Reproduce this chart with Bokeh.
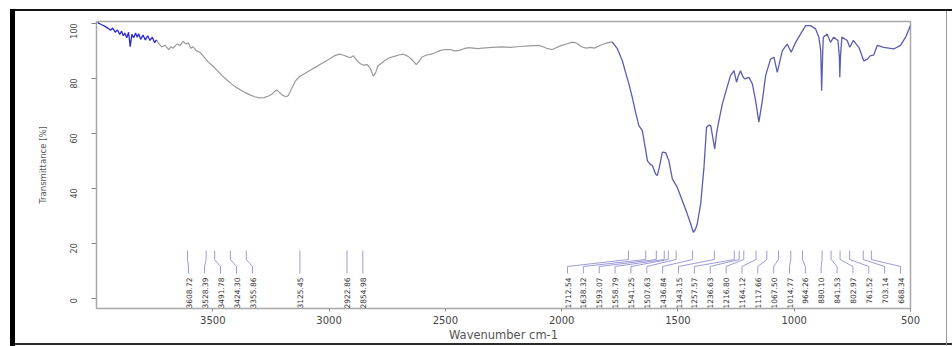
import math
from bokeh.plotting import figure
from bokeh.models import Range1d, FixedTicker
from bokeh.core.properties import value
from bokeh.embed import file_html
from bokeh.resources import INLINE

# ---------------- data ----------------
# noisy high-wavenumber part (blue)
wn_left = [3995, 3980, 3965, 3950, 3940, 3930, 3920, 3910, 3900, 3892, 3885, 3878, 3870,
           3862, 3855, 3848, 3840, 3832, 3825, 3818, 3810, 3800, 3790, 3780, 3770, 3760,
           3750, 3742]
t_left = [100.3, 99.6, 99.0, 98.2, 97.5, 98.3, 96.8, 97.6, 96.0, 97.2, 95.5, 96.5, 94.8,
          96.8, 91.5, 96.0, 94.8, 96.5, 95.0, 96.2, 94.2, 95.8, 94.0, 95.5, 93.8, 95.0,
          93.0, 94.0]

# middle part (grey)
wn_mid = [3742, 3735, 3720, 3705, 3690, 3680, 3670, 3655, 3640, 3628, 3615, 3605, 3595,
          3585, 3570, 3555, 3540, 3520, 3500, 3480, 3460, 3440, 3420, 3400, 3380, 3360,
          3340, 3320, 3300, 3280, 3260, 3245, 3235, 3225, 3215, 3200, 3185, 3175, 3160,
          3145, 3130, 3110, 3090, 3060, 3030, 3000, 2975, 2955, 2940, 2925, 2910, 2895,
          2880, 2865, 2850, 2835, 2822, 2810, 2800, 2790, 2775, 2760, 2740, 2720, 2700,
          2680, 2660, 2640, 2625, 2615, 2600, 2580, 2560, 2540, 2520, 2500, 2480, 2460,
          2440, 2420, 2400, 2380, 2360, 2340, 2300, 2260, 2220, 2180, 2140, 2100, 2080,
          2060, 2040, 2020, 2000, 1970, 1950, 1935, 1915, 1895, 1875, 1860, 1840, 1820,
          1800, 1785]
t_mid = [94.0, 93.0, 91.5, 92.0, 90.5, 91.5, 91.0, 92.5, 92.0, 93.5, 92.5, 93.0, 91.0,
         91.5, 90.0, 89.5, 88.0, 86.0, 84.5, 82.8, 81.0, 79.5, 78.0, 76.8, 75.8, 74.8,
         74.0, 73.3, 72.9, 73.0, 73.6, 74.3, 75.2, 75.8, 75.0, 73.8, 73.3, 73.8, 76.5,
         79.0, 80.5, 81.5, 82.5, 84.0, 85.5, 87.0, 88.3, 88.8, 88.5, 88.0, 87.5, 88.2,
         86.5, 85.3, 84.8, 85.0, 83.5, 80.8, 82.0, 84.5, 85.5, 86.5, 87.5, 88.0, 88.5,
         88.8, 88.0, 86.5, 85.0, 86.0, 87.8, 88.5, 88.8, 89.5, 90.2, 90.5, 90.5, 90.0,
         90.2, 90.8, 91.2, 91.0, 90.8, 91.0, 91.3, 91.5, 91.3, 91.6, 91.8, 92.0, 91.5,
         90.8, 90.5, 91.3, 92.0, 92.8, 93.2, 92.8, 91.5, 91.0, 91.3, 91.0, 91.8, 92.5,
         93.0, 93.3]

# fingerprint part (blue)
wn_right = [1785, 1775, 1760, 1739, 1725, 1711, 1696, 1682, 1668, 1653, 1642, 1631, 1620,
            1610, 1596, 1589, 1580, 1567, 1553, 1539, 1524, 1503, 1481, 1460, 1445, 1434,
            1425, 1417, 1402, 1388, 1377, 1366, 1359, 1348, 1342, 1334, 1328, 1309, 1291,
            1274, 1259, 1248, 1240, 1231, 1220, 1213, 1195, 1180, 1166, 1152, 1137, 1123,
            1102, 1087, 1073, 1065, 1051, 1030, 1013, 994, 973, 951, 930, 908, 894, 886,
            882, 878, 875, 858, 844, 830, 812, 806, 804, 801, 795, 772, 761, 746, 722, 701,
            686, 672, 658, 643, 615, 572, 543, 521, 500]
t_right = [93.3, 92.5, 90.7, 86.4, 82.2, 78.0, 73.0, 67.6, 62.8, 61.0, 55.5, 50.0, 48.8,
           48.3, 45.2, 44.6, 47.5, 53.2, 53.0, 50.0, 43.4, 40.4, 35.5, 30.7, 27.0, 24.0,
           25.0, 27.0, 34.4, 47.7, 62.2, 63.0, 62.8, 57.4, 54.3, 59.8, 62.8, 70.7, 76.1,
           81.0, 82.8, 78.6, 81.0, 82.8, 80.5, 79.8, 80.4, 78.0, 71.9, 64.1, 71.9, 81.0,
           87.0, 87.7, 82.2, 85.0, 90.1, 92.5, 89.5, 93.1, 96.1, 99.2, 99.2, 98.0, 95.0, 90.0,
           75.5, 88.0, 95.0, 96.1, 93.1, 95.0, 93.8, 88.0, 80.4, 88.0, 95.0, 93.8, 91.3, 93.8,
           91.3, 86.4, 87.0, 88.3, 88.5, 92.0, 91.3, 90.7, 92.0, 95.0, 99.2]

# peak picks (three groups of annotations)
peaks_a = [3608.72, 3528.39, 3491.78, 3424.30, 3355.86]
peaks_b = [3125.45, 2922.86, 2854.98]
peaks_c = [1712.54, 1638.32, 1593.07, 1558.79, 1541.25, 1507.63, 1436.84, 1343.15,
           1257.57, 1236.63, 1216.80, 1164.12, 1117.66, 1067.50, 1014.77, 964.26,
           880.10, 841.53, 802.97, 761.52, 703.14, 668.34]

x_ticks = [3500, 3000, 2500, 2000, 1500, 1000, 500]
y_ticks = [0, 20, 40, 60, 80, 100]

# ---------------- layout ----------------
W, H = 952, 346
FL, FR, FT, FB = 96, 910, 21, 308
X0, X1 = 4000, 500
Y0, Y1 = -3.75, 100.7


def px_to_wn(px):
    return X0 + (px - FL) * (X1 - X0) / (FR - FL)


def py_to_val(py):
    return Y1 - (py - FT) * (Y1 - Y0) / (FB - FT)


p = figure(width=W, height=H, output_backend="svg", toolbar_location=None,
           x_range=Range1d(X0, X1), y_range=Range1d(Y0, Y1),
           min_border_left=FL, min_border_right=W - FR,
           min_border_top=FT, min_border_bottom=H - FB)
# the scanned picture's outer frame is painted behind a transparent border area
p.border_fill_color = None
p.styles = {
    "background":
        "linear-gradient(#000,#000) 10px 9px / 5px 337px no-repeat, "
        "linear-gradient(#141414,#141414) 10px 9px / 942px 2px no-repeat, "
        "linear-gradient(#9a9a9a,#9a9a9a) 946px 9px / 1px 337px no-repeat, "
        "linear-gradient(#2a2a2a,#2a2a2a) 10px 343px / 942px 2px no-repeat, "
        "#ffffff"
}
p.background_fill_color = "white"
p.outline_line_color = "#a8a8a8"
p.outline_line_width = 1.5
p.xgrid.visible = False
p.ygrid.visible = False

# axes
p.xaxis.ticker = FixedTicker(ticks=x_ticks)
p.yaxis.ticker = FixedTicker(ticks=y_ticks)
for ax in (p.xaxis[0], p.yaxis[0]):
    ax.axis_line_color = None
    ax.minor_tick_line_color = None
    ax.major_tick_line_color = "#888888"
    ax.major_tick_in = 0
    ax.major_label_text_color = "#444444"
    ax.axis_label_text_color = "#555555"
    ax.major_label_text_font = "DejaVu Sans"
    ax.axis_label_text_font = "DejaVu Sans"
    ax.axis_label_text_font_style = "normal"
p.xaxis.major_tick_out = 3
p.xaxis.major_label_text_font_size = "10px"
p.xaxis.major_label_standoff = 4
p.xaxis.axis_label = "Wavenumber cm-1"
p.xaxis.axis_label_text_font_size = "11.5px"
p.xaxis.axis_label_standoff = 1
p.yaxis.major_tick_out = 5
p.yaxis.major_label_orientation = math.pi / 2
p.yaxis.major_label_text_font_size = "8px"
p.yaxis.major_label_standoff = 18
p.yaxis.axis_label = "Transmittance [%]"
p.yaxis.axis_label_text_font_size = "8.5px"
p.yaxis.axis_label_standoff = 16

# spectrum
p.line(wn_mid, t_mid, line_color="#9a9a9a", line_width=1.2)
p.line(wn_left, t_left, line_color="#2a2ad0", line_width=1.3)
p.line(wn_right, t_right, line_color="#5c5cb0", line_width=1.3)

# peak annotations
LEAD_TOP = py_to_val(250)
LEAD_B1 = py_to_val(259)
LEAD_B2 = py_to_val(266)
LEAD_BOT = py_to_val(273)
TEXT_TOP = py_to_val(277)

lab_a = [px_to_wn(188 + 16 * i) for i in range(len(peaks_a))]
lab_b = list(peaks_b)
lab_c = [px_to_wn(567 + (900 - 567) * i / (len(peaks_c) - 1)) for i in range(len(peaks_c))]

all_peaks = peaks_a + peaks_b + peaks_c
all_lab = lab_a + lab_b + lab_c
xs = [[pk, pk, lb, lb] for pk, lb in zip(all_peaks, all_lab)]
ys = [[LEAD_TOP, LEAD_B1, LEAD_B2, LEAD_BOT] for _ in all_peaks]
p.multi_line(xs, ys, line_color="#8a8ad0", line_width=1, line_alpha=0.85)
p.text(x=all_lab, y=[TEXT_TOP] * len(all_lab), text=["%.2f" % v for v in all_peaks],
       angle=math.pi / 2, text_align="right", text_baseline="middle",
       text_font=value("DejaVu Sans"), text_font_size="7.5px", text_color="#333333")

open("out.html", "w").write(file_html(p, INLINE))
